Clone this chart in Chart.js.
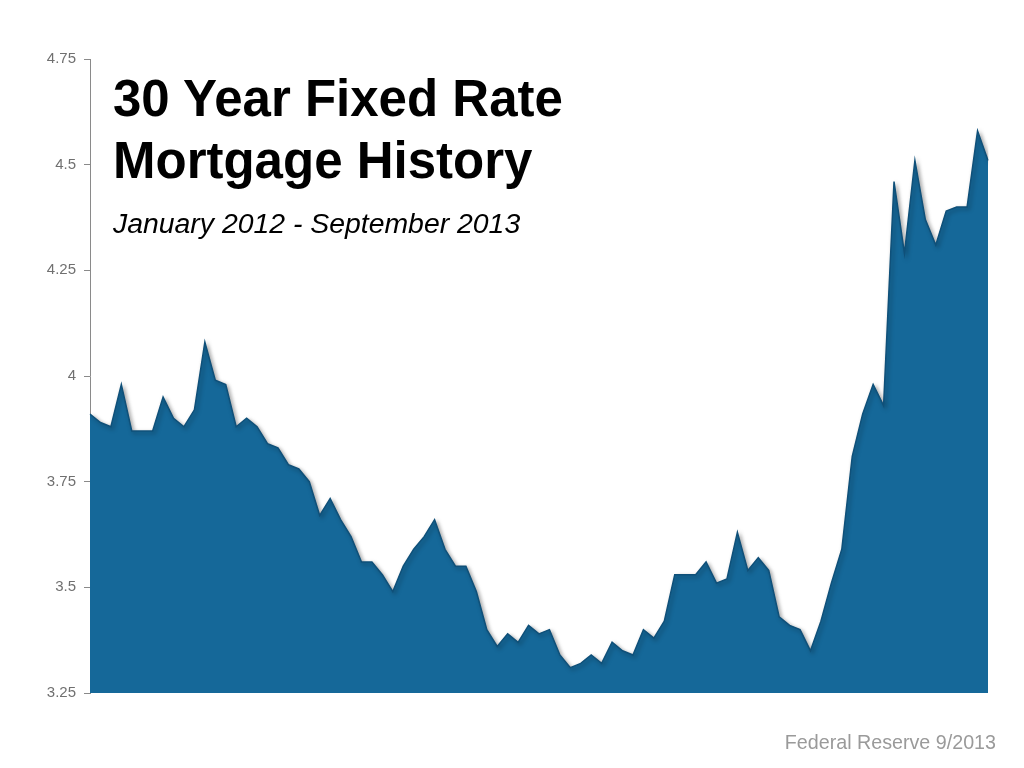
<!DOCTYPE html>
<html>
<head>
<meta charset="utf-8">
<script src="https://cdn.jsdelivr.net/npm/chart.js@4"></script>
<style>
  body { margin: 0; background: #fff; }
  #wrap { position: relative; width: 1024px; height: 768px; font-family: "Liberation Sans", Arial, sans-serif; }
  #chart { position: absolute; left: 0; top: 0; }
  .title { position: absolute; left: 113px; top: 68px; font-weight: bold; font-size: 51px; line-height: 62px; color: #000; white-space: nowrap; }
  .subtitle { position: absolute; left: 113px; top: 209px; font-style: italic; font-size: 28.4px; line-height: 28px; color: #000; white-space: nowrap; }
  .source { position: absolute; right: 28px; top: 733px; font-size: 19.7px; line-height: 19px; color: #9a9a9a; white-space: nowrap; }
</style>
</head>
<body>
<div id="wrap">
  <canvas id="chart" width="1024" height="768"></canvas>
  <div class="title">30 Year Fixed Rate<br>Mortgage History</div>
  <div class="subtitle">January 2012 - September 2013</div>
  <div class="source">Federal Reserve 9/2013</div>
</div>
<script>
// weekly survey dates
const weeks2012 = ['2012-01-05','2012-01-12','2012-01-19','2012-01-26','2012-02-02','2012-02-09','2012-02-16','2012-02-23',
  '2012-03-01','2012-03-08','2012-03-15','2012-03-22','2012-03-29','2012-04-05','2012-04-12','2012-04-19','2012-04-26',
  '2012-05-03','2012-05-10','2012-05-17','2012-05-24','2012-05-31','2012-06-07','2012-06-14','2012-06-21','2012-06-28',
  '2012-07-05','2012-07-12','2012-07-19','2012-07-26','2012-08-02','2012-08-09','2012-08-16','2012-08-23','2012-08-30',
  '2012-09-06','2012-09-13','2012-09-20','2012-09-27','2012-10-04','2012-10-11','2012-10-18','2012-10-25',
  '2012-11-01','2012-11-08','2012-11-15','2012-11-21','2012-11-29','2012-12-06','2012-12-13','2012-12-20','2012-12-27'];
const weeks2013 = ['2013-01-03','2013-01-10','2013-01-17','2013-01-24','2013-01-31','2013-02-07','2013-02-14','2013-02-21',
  '2013-02-28','2013-03-07','2013-03-14','2013-03-21','2013-03-28','2013-04-04','2013-04-11','2013-04-18','2013-04-25',
  '2013-05-02','2013-05-09','2013-05-16','2013-05-23','2013-05-30','2013-06-06','2013-06-13','2013-06-20','2013-06-27',
  '2013-07-03','2013-07-11','2013-07-18','2013-07-25','2013-08-01','2013-08-08','2013-08-15','2013-08-22','2013-08-29'];

// rates
const rates2012 = [3.91,3.89,3.88,3.98, 3.87,3.87,3.87,3.95, 3.90,3.88,3.92,4.08,3.99, 3.98,3.88,3.90,3.88,
  3.84,3.83,3.79,3.78,3.75, 3.67,3.71,3.66,3.62, 3.56,3.56,3.53,3.49, 3.55,3.59,3.62,3.66,3.59,
  3.55,3.55,3.49,3.40, 3.36,3.39,3.37,3.41, 3.39,3.40,3.34,3.31,3.32, 3.34,3.32,3.37,3.35];
const rates2013 = [3.34,3.40,3.38,3.42,3.53, 3.53,3.53,3.56,3.51, 3.52,3.63,3.54,3.57, 3.54,3.43,3.41,3.40,
  3.35,3.42,3.51,3.59,3.81, 3.91,3.98,3.93,4.46, 4.29,4.51,4.37,4.31, 4.39,4.40,4.40,4.58,4.51];

const yTicks = [3.25, 3.5, 3.75, 4, 4.25, 4.5, 4.75];

const labels = weeks2012.concat(weeks2013);
const rates = rates2012.concat(rates2013);

// soft drop shadow under the filled area
const shadowPlugin = {
  id: 'areaShadow',
  beforeDatasetsDraw(chart) {
    const ctx = chart.ctx;
    ctx.save();
    ctx.shadowColor = 'rgba(0,0,0,0.35)';
    ctx.shadowBlur = 4;
    ctx.shadowOffsetX = 2;
    ctx.shadowOffsetY = 2;
  },
  afterDatasetsDraw(chart) {
    chart.ctx.restore();
  }
};

new Chart(document.getElementById('chart'), {
  type: 'line',
  data: {
    labels: labels,
    datasets: [{
      data: rates,
      fill: 'start',
      backgroundColor: '#156899',
      borderColor: '#0f5079',
      borderWidth: 1.5,
      pointRadius: 0,
      tension: 0
    }]
  },
  options: {
    responsive: false,
    animation: false,
    layout: { padding: { top: 59, right: 36, bottom: 75, left: 0 } },
    plugins: { legend: { display: false }, tooltip: { enabled: false } },
    scales: {
      x: { display: false, offset: false },
      y: {
        min: 3.25,
        max: 4.75,
        afterBuildTicks: (scale) => { scale.ticks = yTicks.map(v => ({ value: v })); },
        afterFit: (scale) => { scale.width = 90; },
        border: { display: true, color: '#8a8a8a', width: 1 },
        grid: { drawOnChartArea: false, drawTicks: true, tickLength: 6, color: '#8a8a8a' },
        ticks: {
          padding: 8,
          color: '#707070',
          font: { family: 'Liberation Sans', size: 15 },
          callback: (v) => String(v)
        }
      }
    }
  },
  plugins: [shadowPlugin]
});
</script>
</body>
</html>
